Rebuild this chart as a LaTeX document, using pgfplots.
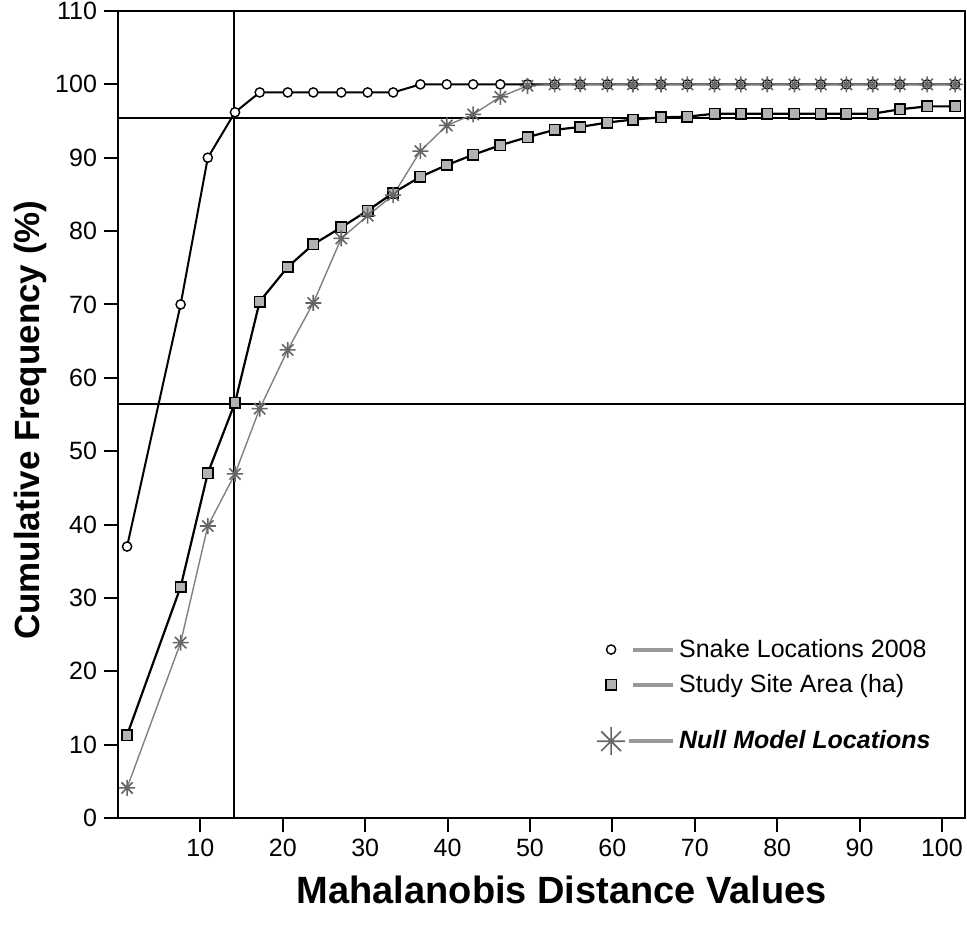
\documentclass[border=0pt]{standalone}
\usepackage{fontspec}
\setmainfont{Liberation Sans}
\usepackage{pgfplots}
\pgfplotsset{compat=1.18}

% eight-ray asterisk as in the original
\pgfdeclareplotmark{ast8}{%
  \pgfpathmoveto{\pgfqpoint{-\pgfplotmarksize}{0pt}}%
  \pgfpathlineto{\pgfqpoint{\pgfplotmarksize}{0pt}}%
  \pgfpathmoveto{\pgfqpoint{0pt}{-\pgfplotmarksize}}%
  \pgfpathlineto{\pgfqpoint{0pt}{\pgfplotmarksize}}%
  \pgfpathmoveto{\pgfqpoint{-0.707\pgfplotmarksize}{-0.707\pgfplotmarksize}}%
  \pgfpathlineto{\pgfqpoint{0.707\pgfplotmarksize}{0.707\pgfplotmarksize}}%
  \pgfpathmoveto{\pgfqpoint{-0.707\pgfplotmarksize}{0.707\pgfplotmarksize}}%
  \pgfpathlineto{\pgfqpoint{0.707\pgfplotmarksize}{-0.707\pgfplotmarksize}}%
  \pgfusepathqstroke}

\begin{document}
\begin{tikzpicture}
\begin{axis}[
  scale only axis, width=423.5pt, height=403.5pt,
  xmin=0, xmax=102.8, ymin=0, ymax=110,
  xtick={10,20,...,100}, ytick={0,10,...,110},
  tick align=outside, xtick pos=bottom, ytick pos=left,
  major tick length=7pt,
  axis line style={line width=1.2pt},
  tick style={line width=1pt, black},
  every tick label/.append style={font=\fontsize{12.5}{14}\selectfont},
  /pgf/number format/assume math mode=true,
  xlabel={Mahalanobis Distance Values},
  ylabel={Cumulative Frequency (\%)},
  xlabel style={font=\fontsize{19}{21}\selectfont\bfseries,
    at={(axis description cs:0.524,0)}, anchor=center, yshift=-36pt},
  ylabel style={font=\fontsize{17.5}{20}\selectfont\bfseries,
    at={(axis description cs:0,0.493)}, anchor=center, yshift=44pt},
  legend cell align=left,
  legend style={draw=none, fill=none, inner sep=0pt, row sep=3pt,
    at={(axis cs:58.1,25)}, anchor=north west,
    font=\fontsize{12.5}{14}\selectfont,
    nodes={inner xsep=2pt, inner ysep=2pt}},
  legend image code/.code={
    \draw[#1] plot coordinates {(0pt,0pt)};
    \draw[line width=2pt, black!40] (11pt,0pt) -- (31pt,0pt);},
]
% reference lines
\addplot[black, line width=1pt, forget plot] coordinates {(14.1,0)(14.1,110)};
\addplot[black, line width=1pt, forget plot] coordinates {(0,95.4)(102.8,95.4)};
\addplot[black, line width=1pt, forget plot] coordinates {(0,56.4)(102.8,56.4)};

% Snake Locations 2008
\addplot[black, line width=1pt, mark=*, mark size=2.3pt,
  mark options={fill=white, draw=black, line width=0.7pt}] coordinates {
(1.1,37.0)(7.6,70.0)(10.9,90.0)(14.2,96.2)(17.2,98.9)(20.6,98.9)(23.7,98.9)
(27.1,98.9)(30.3,98.9)(33.4,98.9)(36.7,100)(39.9,100)(43.1,100)(46.4,100)
(49.7,100)(53.0,100)(56.1,100)(59.4,100)(62.5,100)(65.9,100)(69.1,100)
(72.4,100)(75.6,100)(78.8,100)(82.1,100)(85.3,100)(88.4,100)(91.6,100)
(94.9,100)(98.2,100)(101.6,100)};
\addlegendentry{Snake Locations 2008}

% Study Site Area (ha)
\addplot[black, line width=1.1pt, mark=square*, mark size=2.6pt,
  mark options={fill=black!30, draw=black, line width=0.8pt}] coordinates {
(1.1,11.3)(7.6,31.5)(10.9,47.0)(14.2,56.6)(17.2,70.4)(20.6,75.1)(23.7,78.2)
(27.1,80.5)(30.3,82.8)(33.4,85.2)(36.7,87.4)(39.9,89.0)(43.1,90.4)(46.4,91.7)
(49.7,92.8)(53.0,93.8)(56.1,94.2)(59.4,94.8)(62.5,95.2)(65.9,95.5)(69.1,95.6)
(72.4,96.0)(75.6,96.0)(78.8,96.0)(82.1,96.0)(85.3,96.0)(88.4,96.0)(91.6,96.0)
(94.9,96.6)(98.2,97.0)(101.6,97.0)};
\addlegendentry{Study Site Area (ha)}

% Null Model Locations
\addplot[black!50, line width=0.7pt, mark=ast8, mark size=4pt,
  mark options={draw=black!60, line width=0.8pt},
  legend image code/.code={
    \path[draw=none, fill=none] (0pt,-18pt) rectangle (0.1pt,18pt);
    \draw[black!60, line width=0.8pt, mark=ast8, mark size=7pt] plot coordinates {(0pt,0pt)};
    \draw[line width=2pt, black!40] (9pt,0pt) -- (31pt,0pt);}] coordinates {
(1.1,4.1)(7.6,23.9)(10.9,39.8)(14.2,46.9)(17.2,55.8)(20.6,63.8)(23.7,70.2)
(27.1,79.0)(30.3,82.1)(33.4,84.9)(36.7,90.9)(39.9,94.4)(43.1,95.9)(46.4,98.3)
(49.7,99.8)(53.0,100)(56.1,100)(59.4,100)(62.5,100)(65.9,100)(69.1,100)
(72.4,100)(75.6,100)(78.8,100)(82.1,100)(85.3,100)(88.4,100)(91.6,100)
(94.9,100)(98.2,100)(101.6,100)};
\addlegendentry{\textbf{\textit{Null Model Locations}}}
\end{axis}
\pgfresetboundingbox
\path[use as bounding box] ([xshift=-59pt,yshift=-55pt]current axis.south west)
  rectangle ([xshift=1pt,yshift=5.5pt]current axis.north east);
\end{tikzpicture}
\end{document}
